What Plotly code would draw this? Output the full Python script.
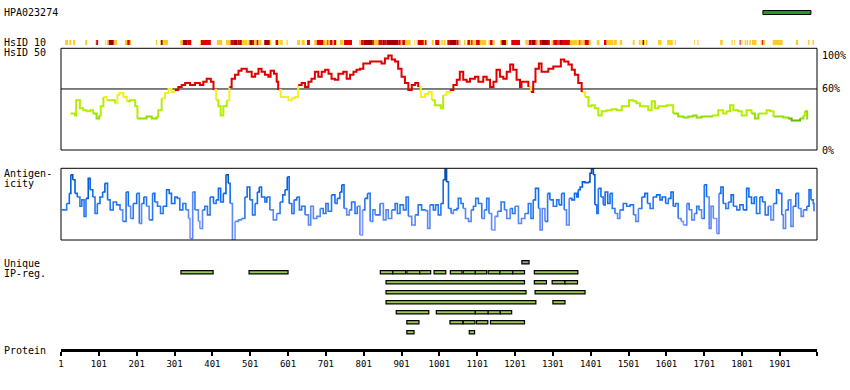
import plotly.graph_objects as go

# ---------------- data (residue positions / values) ----------------
protein_length = 1999
ruler_ticks = [1, 101, 201, 301, 401, 501, 601, 701, 801, 901, 1001, 1101, 1201, 1301,
               1401, 1501, 1601, 1701, 1801, 1901]

antigen_start = 1856
antigen_end = 1983

# HsID 10 bar: blocks (start, end) with similarity level 1=yellow, 2=red, 3=dark red
hs10_start = [12, 23, 33, 65, 92, 94, 117, 122, 127, 139, 142, 170, 176, 183, 252, 263, 265, 270,
              316, 323, 336, 345, 368, 371, 413, 437, 449, 458, 467, 474, 479, 496, 499, 508, 511,
              518, 523, 538, 553, 568, 575, 580, 597, 625, 637, 651, 670, 677, 695, 701, 705, 708,
              712, 719, 722, 728, 738, 749, 789, 794, 800, 825, 828, 840, 851, 857, 862, 893, 899,
              903, 910, 935, 941, 944, 960, 963, 981, 990, 1000, 1006, 1012, 1022, 1029, 1046, 1052,
              1066, 1075, 1082, 1085, 1089, 1098, 1108, 1131, 1135, 1142, 1161, 1165, 1177, 1191,
              1228, 1237, 1244, 1255, 1258, 1266, 1272, 1288, 1297, 1302, 1313, 1316, 1319, 1325,
              1346, 1367, 1371, 1374, 1385, 1396, 1417, 1436, 1443, 1462, 1478, 1512, 1528, 1535,
              1538, 1542, 1547, 1579, 1603, 1623, 1674, 1683, 1743, 1773, 1780, 1793, 1795, 1799,
              1808, 1813, 1820, 1827, 1850, 1854, 1857, 1882, 1943, 1975, 1987]
hs10_end = [20, 28, 38, 70, 94, 99, 119, 127, 139, 142, 149, 176, 183, 186, 255, 265, 270, 284,
            323, 336, 345, 347, 371, 397, 427, 449, 458, 467, 474, 479, 494, 499, 508, 511, 518,
            523, 531, 553, 557, 575, 578, 587, 600, 633, 645, 659, 677, 695, 700, 705, 708, 712,
            719, 722, 728, 730, 747, 770, 794, 800, 825, 828, 840, 851, 857, 862, 893, 899, 903,
            910, 925, 937, 944, 960, 963, 967, 986, 1000, 1003, 1010, 1017, 1029, 1046, 1052, 1057,
            1070, 1082, 1085, 1089, 1098, 1108, 1125, 1135, 1142, 1147, 1165, 1177, 1182, 1214,
            1235, 1244, 1255, 1258, 1263, 1272, 1288, 1293, 1302, 1313, 1316, 1319, 1325, 1346,
            1366, 1371, 1374, 1385, 1396, 1401, 1424, 1443, 1461, 1470, 1484, 1517, 1533, 1538,
            1542, 1545, 1551, 1588, 1618, 1626, 1676, 1686, 1750, 1776, 1782, 1795, 1797, 1802,
            1811, 1817, 1824, 1839, 1854, 1857, 1861, 1908, 1949, 1979, 1991]
hs10_level = [1, 1, 1, 1, 1, 2, 1, 1, 3, 2, 1, 1, 2, 1, 1, 1, 3, 1,
              1, 3, 2, 1, 1, 2, 1, 1, 2, 3, 2, 3, 1, 1, 3, 2, 1,
              2, 1, 3, 1, 2, 1, 1, 1, 1, 1, 2, 1, 2, 1, 1, 2, 1,
              2, 1, 2, 1, 1, 2, 1, 2, 3, 2, 1, 2, 3, 2, 3, 2, 1,
              2, 1, 1, 1, 2, 1, 2, 1, 2, 1, 1, 1, 2, 3, 2, 1,
              1, 2, 1, 2, 1, 2, 1, 1, 2, 1, 1, 3, 1, 2,
              1, 2, 3, 2, 1, 2, 3, 2, 1, 2, 3, 2, 3, 2,
              1, 1, 2, 1, 2, 1, 1, 2, 1, 1, 1, 1, 1, 1,
              3, 1, 1, 1, 1, 1, 1, 1, 1, 1, 1, 1, 2, 1,
              1, 1, 1, 1, 1, 2, 1, 1, 1, 1, 1]

# HsID 50 (% identity) profile
hs50_pos = [26, 38, 41, 47, 51, 60, 69, 78, 86, 95,
            102, 106, 113, 122, 131, 144, 150, 155, 166, 175,
            183, 192, 197, 203, 214, 227, 241, 254, 258, 267,
            276, 285, 293, 302, 311, 320, 329, 342, 355, 368,
            377, 386, 397, 404, 411, 417, 423, 430, 439, 446,
            452, 461, 470, 478, 492, 505, 514, 523, 531, 540,
            549, 555, 564, 571, 575, 582, 593, 602, 611, 619,
            628, 637, 646, 655, 663, 672, 681, 690, 699, 708,
            716, 725, 734, 747, 756, 765, 774, 782, 791, 800,
            818, 835, 848, 857, 866, 875, 884, 892, 901, 910,
            919, 928, 937, 945, 952, 963, 972, 981, 989, 998,
            1005, 1011, 1020, 1029, 1038, 1047, 1055, 1064, 1073, 1082,
            1095, 1104, 1117, 1126, 1135, 1144, 1152, 1161, 1170, 1179,
            1188, 1196, 1205, 1214, 1218, 1227, 1236, 1243, 1249, 1255,
            1264, 1271, 1280, 1289, 1302, 1315, 1322, 1331, 1342, 1351,
            1359, 1368, 1377, 1386, 1395, 1403, 1412, 1421, 1430, 1443,
            1456, 1470, 1483, 1492, 1502, 1514, 1522, 1531, 1544, 1553,
            1562, 1571, 1580, 1593, 1602, 1610, 1619, 1632, 1646, 1659,
            1672, 1681, 1694, 1707, 1721, 1738, 1751, 1760, 1769, 1778,
            1791, 1800, 1813, 1826, 1835, 1844, 1853, 1866, 1875, 1884,
            1897, 1910, 1923, 1932, 1945, 1954, 1963, 1967, 1973]
hs50_val = [36, 34, 49, 49, 41, 39, 38, 39, 36, 31,
            34, 43, 52, 49, 49, 46, 54, 56, 52, 48,
            49, 49, 43, 31, 31, 33, 31, 33, 39, 51,
            56, 60, 57, 59, 62, 64, 66, 64, 66, 64,
            67, 70, 67, 59, 49, 43, 34, 43, 49, 62,
            70, 74, 78, 80, 77, 72, 75, 80, 77, 74,
            72, 78, 75, 67, 59, 52, 52, 49, 51, 52,
            64, 66, 62, 67, 70, 77, 72, 77, 79, 75,
            70, 69, 75, 77, 70, 74, 77, 79, 80, 85,
            87, 87, 85, 90, 93, 89, 87, 80, 72, 66,
            59, 64, 66, 62, 52, 55, 57, 49, 44, 44,
            41, 54, 57, 59, 64, 69, 77, 69, 67, 70,
            72, 67, 72, 69, 62, 67, 79, 72, 70, 77,
            84, 79, 69, 62, 67, 67, 62, 57, 67, 80,
            85, 77, 77, 80, 82, 82, 89, 87, 84, 79,
            74, 66, 57, 52, 43, 44, 41, 34, 38, 39,
            40, 39, 43, 43, 49, 48, 46, 43, 43, 39,
            48, 41, 43, 43, 44, 44, 36, 33, 32, 33,
            34, 32, 33, 33, 34, 39, 36, 38, 44, 39,
            38, 34, 39, 36, 31, 36, 36, 39, 38, 33,
            33, 32, 31, 29, 29, 31, 34, 38, 30]

# Antigenicity profile (relative, 0-100)
ag_pos = [3, 12, 16, 23, 27, 32, 38, 44, 51, 56,
          62, 67, 73, 78, 85, 91, 97, 104, 111, 117,
          124, 131, 139, 148, 157, 164, 173, 179, 185, 192,
          201, 208, 214, 220, 227, 234, 243, 249, 256, 264,
          271, 280, 287, 293, 302, 308, 315, 323, 331, 338,
          342, 349, 355, 364, 368, 375, 381, 388, 395, 404,
          411, 417, 423, 430, 437, 443, 448, 454, 461, 470,
          478, 487, 493, 500, 507, 514, 520, 525, 531, 540,
          545, 553, 562, 571, 580, 587, 593, 599, 604, 611,
          617, 624, 631, 637, 646, 655, 661, 668, 677, 686,
          694, 701, 707, 716, 725, 731, 738, 743, 749, 756,
          763, 769, 778, 784, 791, 798, 804, 811, 818, 825,
          831, 844, 853, 860, 866, 875, 884, 890, 897, 906,
          913, 919, 928, 937, 945, 954, 963,
          970, 976, 985, 991, 998, 1005, 1011, 1016, 1020, 1025,
          1032, 1038, 1047, 1051, 1058, 1064, 1070, 1078, 1085, 1091,
          1097, 1104, 1113, 1120, 1126, 1132, 1139, 1148, 1155, 1164,
          1173, 1179, 1188, 1194, 1201, 1210, 1218, 1227, 1236, 1243,
          1249, 1255, 1263, 1267, 1273, 1280, 1287, 1293, 1302, 1311,
          1317, 1324, 1331, 1337, 1344, 1351, 1358, 1364, 1368, 1373,
          1379, 1386, 1395, 1399, 1403, 1408, 1412, 1417, 1421, 1428,
          1434, 1439, 1446, 1452, 1458, 1465, 1472, 1478, 1487, 1496,
          1505, 1514, 1520, 1527, 1536, 1544, 1551, 1558, 1566, 1575,
          1584, 1590, 1599, 1606, 1613, 1619, 1625, 1632, 1640, 1646,
          1655, 1661, 1668, 1675, 1681, 1687, 1694, 1701, 1707, 1714,
          1719, 1725, 1734, 1740, 1745, 1751, 1758, 1765, 1772, 1778,
          1787, 1795, 1804, 1813, 1819, 1826, 1833, 1839, 1848, 1855,
          1862, 1870, 1877, 1884, 1892, 1898, 1906, 1910, 1916, 1923,
          1930, 1936, 1943, 1950, 1957, 1963, 1972, 1978, 1983, 1989,
          1991]
ag_val = [42, 42, 51, 65, 91, 84, 65, 60, 47, 56,
          33, 58, 86, 70, 60, 37, 51, 60, 67, 79,
          56, 42, 53, 49, 42, 26, 67, 47, 30, 51,
          65, 23, 51, 60, 47, 28, 65, 53, 47, 37,
          47, 70, 65, 51, 60, 58, 42, 51, 42, 30,
          2, 67, 42, 26, 16, 42, 47, 35, 60, 51,
          56, 72, 53, 65, 91, 79, 51, 0, 26, 28,
          30, 60, 74, 56, 35, 51, 67, 74, 60, 53,
          60, 42, 28, 37, 53, 63, 70, 88, 51, 37,
          56, 60, 42, 47, 35, 21, 47, 30, 33, 44,
          37, 51, 40, 63, 51, 58, 67, 77, 44, 35,
          42, 53, 37, 47, 7, 42, 58, 65, 26, 42,
          35, 51, 28, 42, 30, 42, 51, 37, 49, 42,
          60, 33, 21, 35, 49, 42, 41,
          16, 49, 42, 49, 35, 51, 84, 99, 81, 44,
          37, 42, 44, 58, 51, 44, 30, 26, 42, 47,
          58, 51, 30, 42, 58, 37, 14, 33, 40, 53,
          42, 30, 44, 37, 47, 23, 30, 37, 51, 30,
          56, 72, 44, 14, 44, 26, 65, 56, 47, 56,
          49, 65, 42, 21, 58, 56, 65, 60, 70, 74,
          81, 80, 81, 93, 99, 91, 49, 37, 72, 60,
          49, 67, 51, 65, 44, 37, 30, 42, 51, 47,
          49, 35, 26, 44, 60, 65, 51, 44, 60, 63,
          56, 60, 51, 58, 67, 47, 51, 30, 26, 21,
          51, 42, 28, 37, 47, 42, 30, 77, 60, 16,
          47, 30, 9, 65, 74, 51, 44, 53, 63, 47,
          42, 49, 42, 72, 60, 51, 60, 37, 60, 53,
          35, 47, 28, 51, 70, 65, 35, 16, 42, 56,
          19, 47, 65, 44, 33, 42, 47, 70, 56, 51,
          40]

# Unique IP-regions: rows of boxes (row 0 = grey single box)
ip_row = [0,
          1, 1, 1, 1, 1, 1, 1, 1, 1, 1, 1, 1, 1, 1,
          2, 2, 2, 2,
          3, 3,
          4, 4,
          5, 5, 5, 5, 5,
          6, 6, 6, 6, 6,
          7, 7]
ip_start = [1219,
            318, 498, 845, 878, 915, 949, 987, 1030, 1064, 1096, 1130, 1161, 1195, 1252,
            860, 1252, 1299, 1333,
            860, 1254,
            860, 1301,
            887, 993, 1096, 1130, 1162,
            915, 1029, 1064, 1099, 1136,
            915, 1080]
ip_end = [1238,
          403, 601, 878, 912, 949, 978, 1018, 1061, 1096, 1126, 1161, 1195, 1226, 1367,
          1226, 1284, 1333, 1366,
          1230, 1386,
          1256, 1333,
          973, 1096, 1130, 1162, 1192,
          947, 1063, 1095, 1129, 1226,
          934, 1094]

# ---------------- styling helpers ----------------
W, H = 850, 390
FONT = "DejaVu Sans Mono"


def fy(p):
    return 1 - p / H


def fx(p):
    return p / W


def hs_color(v):
    if v >= 60:
        return "#e00000"
    if v >= 50:
        return "#f0f028"
    if v >= 35:
        return "#b4ee00"
    if v >= 31:
        return "#92e000"
    return "#66bb00"


def ag_color(v):
    if v >= 85:
        return "#0a4fae"
    if v >= 70:
        return "#005fdc"
    if v >= 55:
        return "#126cf0"
    if v >= 40:
        return "#2a78f0"
    if v >= 25:
        return "#5a88f4"
    if v >= 10:
        return "#8294ff"
    return "#a2a4ff"


def colored_runs(xs, ys, colorfn):
    runs = []
    for i in range(len(xs) - 1):
        c = colorfn((ys[i] + ys[i + 1]) / 2)
        if runs and runs[-1][0] == c:
            runs[-1][1].append(xs[i + 1])
            runs[-1][2].append(ys[i + 1])
        else:
            runs.append([c, [xs[i], xs[i + 1]], [ys[i], ys[i + 1]]])
    groups = {}
    for c, rx, ry in runs:
        gx, gy = groups.setdefault(c, ([], []))
        gx.extend(rx + [None])
        gy.extend(ry + [None])
    return groups


fig = go.Figure()

# antigen marker (top right)
fig.add_trace(go.Bar(
    x=[antigen_end - antigen_start], base=[antigen_start], y=[0.5], orientation="h",
    width=0.8, marker=dict(color="#1f9b1f", line=dict(color="black", width=1)),
    xaxis="x", yaxis="y", hoverinfo="skip"))

# HsID 10 bar
lvl_colors = {1: "#ffc928", 2: "#de0000", 3: "#a20008"}
fig.add_trace(go.Bar(
    x=[e - s for s, e in zip(hs10_start, hs10_end)], base=hs10_start,
    y=[0.5] * len(hs10_start), orientation="h", width=1,
    marker=dict(color=[lvl_colors[l] for l in hs10_level], line=dict(width=0)),
    xaxis="x", yaxis="y2", hoverinfo="skip"))

# HsID 50 line
for c, (gx, gy) in colored_runs(hs50_pos, hs50_val, hs_color).items():
    fig.add_trace(go.Scatter(x=gx, y=gy, mode="lines", line=dict(color=c, width=2, shape="hv"),
                             xaxis="x", yaxis="y3", hoverinfo="skip", connectgaps=False))

# Antigenicity line
for c, (gx, gy) in colored_runs(ag_pos, ag_val, ag_color).items():
    fig.add_trace(go.Scatter(x=gx, y=gy, mode="lines", line=dict(color=c, width=1.6, shape="hv"),
                             xaxis="x", yaxis="y4", hoverinfo="skip", connectgaps=False))

# Unique IP-regions
fig.add_trace(go.Bar(
    x=[e - s for s, e in zip(ip_start, ip_end)], base=ip_start, y=ip_row,
    orientation="h", width=0.32,
    marker=dict(color=["#999999" if r == 0 else "#9bc957" for r in ip_row],
                line=dict(color="black", width=1.2)),
    xaxis="x", yaxis="y5", hoverinfo="skip"))

shapes = [
    dict(type="line", xref="x domain", yref="y3", x0=0, x1=1, y0=60, y1=60,
         line=dict(color="black", width=1), layer="below"),
    dict(type="rect", xref="x domain", yref="y3 domain", x0=0, x1=1, y0=0, y1=1,
         line=dict(color="black", width=1)),
    dict(type="rect", xref="x domain", yref="y4 domain", x0=0, x1=1, y0=0, y1=1,
         line=dict(color="black", width=1)),
]

ann_font = dict(family=FONT, size=10, color="black")
left_labels = [("HPA023274", 12.5), ("HsID 10", 42.5), ("HsID 50", 53), ("Antigen-", 173),
               ("icity", 183), ("Unique", 263), ("IP-reg.", 273), ("Protein", 350)]
annotations = [dict(text=t, x=fx(2), y=fy(yy), xref="paper", yref="paper", xanchor="left",
                    yanchor="middle", showarrow=False, font=ann_font) for t, yy in left_labels]
annotations += [
    dict(text="100%", x=fx(820), y=100, xref="paper", yref="y3", xanchor="left",
         yanchor="top", showarrow=False, font=ann_font),
    dict(text="60%", x=fx(820), y=60, xref="paper", yref="y3", xanchor="left",
         yanchor="middle", showarrow=False, font=ann_font),
    dict(text="0%", x=fx(820), y=0, xref="paper", yref="y3", xanchor="left",
         yanchor="middle", showarrow=False, font=ann_font),
]

hidden_y = dict(visible=False, fixedrange=True, showgrid=False, zeroline=False)

fig.update_layout(
    width=W, height=H, margin=dict(l=0, r=0, t=0, b=0),
    paper_bgcolor="white", plot_bgcolor="rgba(0,0,0,0)",
    showlegend=False, barmode="overlay",
    xaxis=dict(domain=[fx(61), fx(817)], range=[1, protein_length], anchor="free",
               position=fy(350), showline=True, linewidth=3, linecolor="black",
               ticks="outside", ticklen=4, tickwidth=2, tickcolor="black",
               tickvals=ruler_ticks + [protein_length],
               ticktext=[str(t) for t in ruler_ticks] + [""],
               tickfont=dict(family=FONT, size=9, color="black"),
               showgrid=False, zeroline=False, automargin=False),
    yaxis=dict(domain=[fy(15), fy(10)], range=[0, 1], anchor="x", **hidden_y),
    yaxis2=dict(domain=[fy(45), fy(40)], range=[0, 1], anchor="x", **hidden_y),
    yaxis3=dict(domain=[fy(150), fy(48.3)], range=[0, 100], anchor="x", **hidden_y),
    yaxis4=dict(domain=[fy(240), fy(168.3)], range=[0, 100], anchor="x", **hidden_y),
    yaxis5=dict(domain=[fy(337.3), fy(257.3)], range=[7.5, -0.5], anchor="x", **hidden_y),
    shapes=shapes, annotations=annotations,
)

fig.write_html(
    "out.html",
    config={"displayModeBar": False, "staticPlot": True},
    post_script="document.body.style.margin='0';document.body.style.padding='0';",
)
